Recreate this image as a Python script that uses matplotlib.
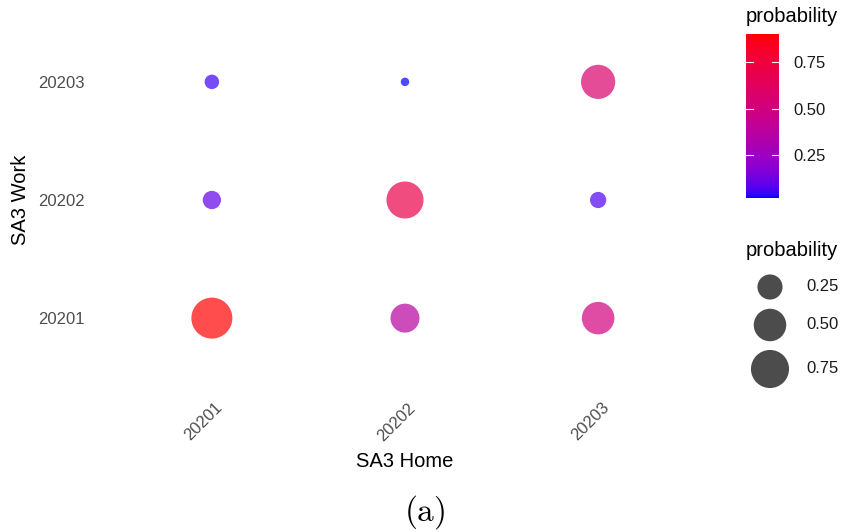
import matplotlib
matplotlib.use("Agg")
import matplotlib.pyplot as plt
import matplotlib.transforms as mtransforms
import numpy as np
from matplotlib.colors import ListedColormap, Normalize
from matplotlib.cm import ScalarMappable

plt.rcParams['font.family'] = ['Liberation Sans', 'DejaVu Sans']
plt.rcParams['mathtext.fontset'] = 'cm'

# SA3 origin/destination probabilities
home = ["20201", "20202", "20203"]
work = ["20201", "20202", "20203"]
# rows = home, cols = work
prob = [[0.90, 0.10, 0.05],
        [0.37, 0.70, 0.02],
        [0.50, 0.07, 0.57]]
legend_breaks = [0.25, 0.50, 0.75]

W, H = 846, 532
DPI = 100


def srgb_to_lab(rgb):
    rgb = np.asarray(rgb, float)
    lin = np.where(rgb <= 0.04045, rgb / 12.92, ((rgb + 0.055) / 1.055) ** 2.4)
    M = np.array([[0.4124, 0.3576, 0.1805],
                  [0.2126, 0.7152, 0.0722],
                  [0.0193, 0.1192, 0.9505]])
    xyz = M @ lin / np.array([0.95047, 1.0, 1.08883])
    f = np.where(xyz > 0.008856, np.cbrt(xyz), 7.787 * xyz + 16 / 116)
    return np.array([116 * f[1] - 16, 500 * (f[0] - f[1]), 200 * (f[1] - f[2])])


def lab_to_srgb(lab):
    L, a, b = lab
    fy = (L + 16) / 116
    fx = fy + a / 500
    fz = fy - b / 200
    f = np.array([fx, fy, fz])
    xyz = np.where(f ** 3 > 0.008856, f ** 3, (f - 16 / 116) / 7.787)
    xyz = xyz * np.array([0.95047, 1.0, 1.08883])
    Minv = np.array([[3.2406, -1.5372, -0.4986],
                     [-0.9689, 1.8758, 0.0415],
                     [0.0557, -0.2040, 1.0570]])
    lin = Minv @ xyz
    lin = np.clip(lin, 0, 1)
    rgb = np.where(lin <= 0.0031308, 12.92 * lin, 1.055 * lin ** (1 / 2.4) - 0.055)
    return np.clip(rgb, 0, 1)


# blue -> red gradient interpolated in Lab
lab_lo = srgb_to_lab([0, 0, 1])
lab_hi = srgb_to_lab([1, 0, 0])
grad = [lab_to_srgb(lab_lo + t * (lab_hi - lab_lo)) for t in np.linspace(0, 1, 256)]
cmap = ListedColormap(grad)

P = np.array(prob)
pmin, pmax = P.min(), P.max()
norm = Normalize(pmin, pmax)

dmax = 41.0  # px diameter of the largest point
dmin = 8.5   # px diameter of the smallest point


def diam(p):
    frac = (np.asarray(p) - pmin) / (pmax - pmin)
    return dmin + (dmax - dmin) * np.sqrt(frac)


def px_area(d):
    return (d * 72 / DPI) ** 2


fig = plt.figure(figsize=(W / DPI, H / DPI), dpi=DPI)


def px_axes(x0, y0, x1, y1):
    return fig.add_axes([x0 / W, 1 - y1 / H, (x1 - x0) / W, (y1 - y0) / H])


ax = px_axes(96, 11, 714, 389)
xs, ys, vals = [], [], []
for i in range(len(home)):
    for j in range(len(work)):
        xs.append(i)
        ys.append(j)
        vals.append(prob[i][j])
vals = np.array(vals)
ax.scatter(xs, ys, s=px_area(diam(vals)), c=vals, cmap=cmap, norm=norm,
           alpha=0.7, linewidths=0)
ax.set_xlim(-0.6, 2.6)
ax.set_ylim(-0.6, 2.6)
ax.set_xticks(range(len(home)))
ax.set_xticklabels(home, rotation=45, ha='right', va='top',
                   rotation_mode='anchor')
ax.set_yticks(range(len(work)))
ax.set_yticklabels(work)
ax.tick_params(length=0, labelsize=12, colors='#4D4D4D', pad=8)
ax.tick_params(axis='x', pad=8)
shift = mtransforms.ScaledTranslation(3 / DPI, 0, fig.dpi_scale_trans)
for lab in ax.get_xticklabels():
    lab.set_transform(lab.get_transform() + shift)
for s in ax.spines.values():
    s.set_visible(False)
ax.set_xlabel("SA3 Home", fontsize=14.5, labelpad=6)
ax.set_ylabel("SA3 Work", fontsize=14.5, labelpad=6)

# colour legend
cax = px_axes(746, 34, 779, 198)
cb = fig.colorbar(ScalarMappable(norm=norm, cmap=cmap), cax=cax)
cb.outline.set_visible(False)
cb.set_ticks(legend_breaks)
cb.set_ticklabels(["%.2f" % b for b in legend_breaks])
cax.tick_params(length=0, labelsize=12, pad=10, colors='#1A1A1A')
for b in legend_breaks:
    cax.axhline(b, xmin=0, xmax=0.2, color='white', lw=0.8)
    cax.axhline(b, xmin=0.8, xmax=1, color='white', lw=0.8)
fig.text(746 / W, 1 - 16 / H, "probability", fontsize=14.5, va='center')

# size legend
lax = px_axes(740, 230, 846, 400)
lax.set_xlim(740, 846)
lax.set_ylim(400, 230)
lax.axis('off')
key_y = [287, 325, 369]
lax.scatter([770] * len(legend_breaks), key_y,
            s=px_area(diam(legend_breaks)), color='black', alpha=0.7,
            linewidths=0)
for b, y in zip(legend_breaks, key_y):
    lax.text(806, y, "%.2f" % b, fontsize=12, va='center', color='#1A1A1A')
fig.text(746 / W, 1 - 250 / H, "probability", fontsize=14.5, va='center')

fig.text(425 / W, 1 - 512 / H, r'$\mathrm{(a)}$', fontsize=24,
         ha='center', va='center')

fig.savefig("out.png", dpi=DPI)
